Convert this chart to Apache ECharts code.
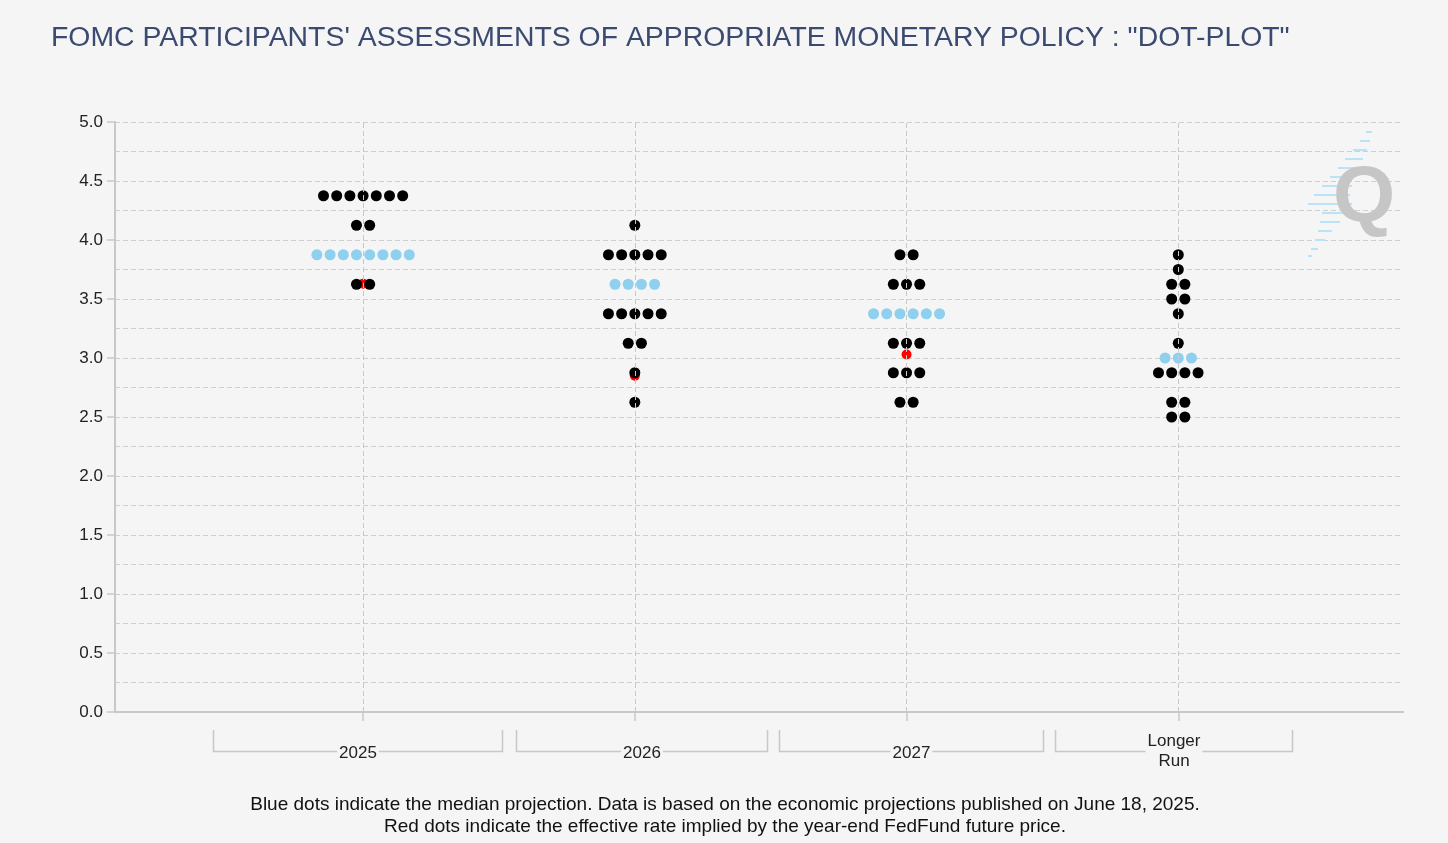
<!DOCTYPE html>
<html>
<head>
<meta charset="utf-8">
<script src="https://cdn.jsdelivr.net/npm/echarts@6/dist/echarts.min.js"></script>
<style>
  html, body { margin: 0; padding: 0; background: #f5f5f5; }
  #chart { width: 1448px; height: 843px; }
</style>
</head>
<body>
<div id="chart"></div>
<script>
const categories = ['2025', '2026', '2027', 'Longer\nRun'];
const catPos = [1, 2, 3, 4];

// each participant's dot, grouped per column: rate levels and how many dots sit on them
const dotRates = [
  [4.375, 4.125, 3.875, 3.625],
  [4.125, 3.875, 3.625, 3.375, 3.125, 2.875, 2.625],
  [3.875, 3.625, 3.375, 3.125, 2.875, 2.625],
  [3.875, 3.75, 3.625, 3.5, 3.375, 3.125, 3.0, 2.875, 2.625, 2.5]
];
const dotCounts = [
  [7, 2, 8, 2],
  [1, 5, 4, 5, 2, 1, 1],
  [2, 3, 6, 3, 3, 2],
  [1, 1, 2, 2, 1, 1, 3, 4, 2, 2]
];
const medians = [3.875, 3.625, 3.375, 3.0];
const futuresImplied = [3.63, 2.85, 3.03, null];

const footnote = [
  'Blue dots indicate the median projection. Data is based on the economic projections published on June 18, 2025.',
  'Red dots indicate the effective rate implied by the year-end FedFund future price.'
];

const BG = '#f5f5f5';
const FONT = '"Liberation Sans", Arial, sans-serif';
const DOT_GAP = 13.2;

const blackDots = [];
const blueDots = [];
dotRates.forEach((rates, c) => {
  rates.forEach((r, j) => {
    const n = dotCounts[c][j];
    for (let k = 0; k < n; k++) {
      const item = { value: [catPos[c], r], symbolOffset: [(k - (n - 1) / 2) * DOT_GAP, 0] };
      (r === medians[c] ? blueDots : blackDots).push(item);
    }
  });
});
const redDots = futuresImplied
  .map((v, c) => (v == null ? null : [catPos[c], v]))
  .filter(Boolean);

const chart = echarts.init(document.getElementById('chart'));

chart.setOption({
  backgroundColor: BG,
  animation: false,
  title: {
    text: 'FOMC PARTICIPANTS\' ASSESSMENTS OF APPROPRIATE MONETARY POLICY : "DOT-PLOT"',
    left: 51,
    top: 24,
    padding: 0,
    textStyle: { fontFamily: FONT, fontSize: 28.4, fontWeight: 'normal', color: '#3b4a70' }
  },
  grid: { left: 115, right: 45, top: 122, bottom: 131 },
  xAxis: {
    type: 'value',
    min: 0.087,
    max: 4.827,
    axisLine: { lineStyle: { color: '#c8c8c8', width: 2 } },
    axisTick: { show: true, customValues: catPos, length: 9, lineStyle: { color: '#c8c8c8', width: 1.5 } },
    axisLabel: { show: false },
    splitLine: { show: false }
  },
  yAxis: {
    type: 'value',
    min: 0,
    max: 5,
    interval: 0.5,
    axisLine: { show: true, lineStyle: { color: '#c8c8c8', width: 2 } },
    axisTick: { show: true, length: 8, lineStyle: { color: '#c8c8c8', width: 1.5 } },
    axisLabel: {
      margin: 12,
      fontFamily: FONT,
      fontSize: 17,
      color: '#222',
      formatter: v => v.toFixed(1)
    },
    splitLine: { lineStyle: { color: '#cfcfcf', type: [5, 3], width: 1 } },
    minorTick: { show: false, splitNumber: 2 },
    minorSplitLine: { show: true, lineStyle: { color: '#cfcfcf', type: [5, 3], width: 1 } }
  },
  series: [
    {
      name: 'futures',
      type: 'scatter',
      z: 1,
      symbolSize: 10,
      itemStyle: { color: '#ff0000', opacity: 1 },
      data: redDots
    },
    {
      name: 'participants',
      type: 'scatter',
      z: 2,
      symbolSize: 11,
      itemStyle: { color: '#000000', opacity: 1 },
      data: blackDots
    },
    {
      name: 'median',
      type: 'scatter',
      z: 2,
      symbolSize: 11,
      itemStyle: { color: '#8fd0ee', opacity: 1 },
      data: blueDots,
      markLine: {
        silent: true,
        symbol: 'none',
        label: { show: false },
        z: 5,
        lineStyle: { color: '#c8c8c8', type: [5, 3], width: 1 },
        data: catPos.map(p => ({ xAxis: p }))
      }
    }
  ]
});

// bracket labels under the x axis, built from the axis scale
const bracketEdges = [[0.448, 1.511], [1.563, 2.487], [2.531, 3.503], [3.547, 4.419]];
const graphics = [];
bracketEdges.forEach((e, i) => {
  const x1 = Math.round(chart.convertToPixel({ xAxisIndex: 0 }, e[0])) + 0.5;
  const x2 = Math.round(chart.convertToPixel({ xAxisIndex: 0 }, e[1])) + 0.5;
  const xc = (x1 + x2) / 2;
  graphics.push({
    type: 'polyline',
    shape: { points: [[x1, 730], [x1, 751.5], [x2, 751.5], [x2, 730]] },
    style: { stroke: '#c8c8c8', lineWidth: 1.5, fill: null }
  });
  graphics.push({
    type: 'text',
    x: xc,
    y: categories[i].includes('\n') ? 751 : 753,
    z: 10,
    style: {
      text: categories[i],
      fontFamily: FONT,
      fontSize: 17,
      lineHeight: 20,
      fill: '#222',
      align: 'center',
      verticalAlign: 'middle',
      backgroundColor: BG,
      padding: [0, 2]
    }
  });
});

footnote.forEach((t, i) => {
  graphics.push({
    type: 'text',
    x: 725,
    y: 805 + i * 22,
    style: {
      text: t,
      fontFamily: FONT,
      fontSize: 19,
      fill: '#111',
      align: 'center',
      verticalAlign: 'middle'
    }
  });
});

// watermark logo
const streaks = [
  [1366, 131, 6], [1360, 140, 10], [1353, 149, 14], [1345, 158, 18], [1338, 167, 20],
  [1330, 176, 24], [1322, 185, 30], [1314, 194, 36], [1308, 203, 44], [1322, 212, 26],
  [1320, 221, 20], [1318, 230, 14], [1315, 239, 10], [1311, 248, 7], [1308, 255, 4]
];
streaks.forEach(s => {
  graphics.push({
    type: 'rect',
    shape: { x: s[0], y: s[1], width: s[2], height: 2 },
    style: { fill: '#b9e3f7' }
  });
});
graphics.push({
  type: 'text',
  x: 1364,
  y: 199,
  style: {
    text: 'Q',
    fontFamily: FONT,
    fontSize: 80,
    fontWeight: 'bold',
    fill: '#c6c6c6',
    align: 'center',
    verticalAlign: 'middle'
  }
});

chart.setOption({ graphic: graphics });
window.addEventListener('resize', () => chart.resize());
</script>
</body>
</html>
